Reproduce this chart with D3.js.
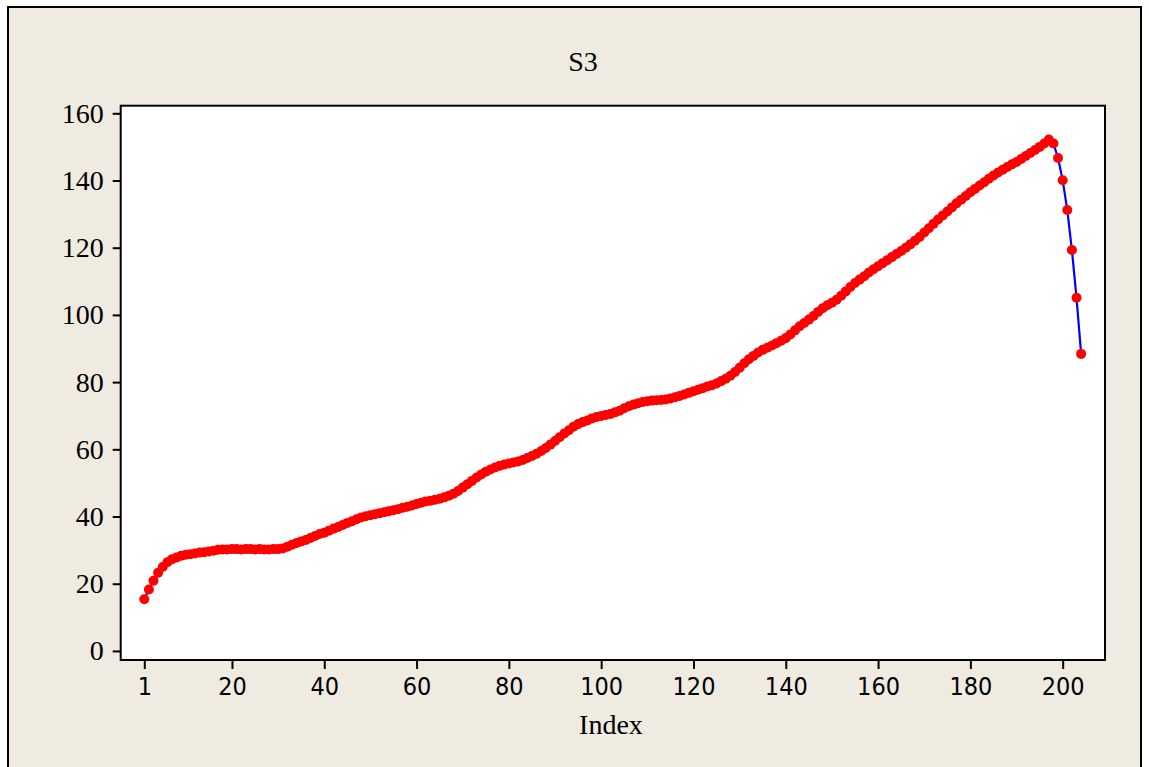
<!DOCTYPE html>
<html>
<head>
<meta charset="utf-8">
<script src="https://cdn.jsdelivr.net/npm/d3@7"></script>
<style>
  html, body { margin: 0; padding: 0; background: #ffffff; }
  svg { display: block; }
</style>
</head>
<body>
<svg id="chart" width="1149" height="767"></svg>
<script>
// Series S3, one value per observation (Index 1..204)
const s3Values = [
  15.4, 18.3, 20.9, 23.3, 25.0, 26.4, 27.3, 27.8, 28.3, 28.6,
  28.8, 29.0, 29.3, 29.4, 29.6, 29.8, 30.1, 30.2, 30.2, 30.3,
  30.3, 30.2, 30.3, 30.3, 30.2, 30.3, 30.2, 30.2, 30.3, 30.3,
  30.5, 31.0, 31.6, 32.1, 32.6, 33.0, 33.6, 34.2, 34.8, 35.2,
  35.8, 36.4, 36.9, 37.5, 38.1, 38.6, 39.2, 39.7, 40.1, 40.4,
  40.7, 41.0, 41.3, 41.6, 41.9, 42.2, 42.6, 42.9, 43.3, 43.7,
  44.1, 44.5, 44.7, 45.0, 45.3, 45.7, 46.2, 46.8, 47.6, 48.6,
  49.6, 50.6, 51.6, 52.5, 53.3, 54.0, 54.6, 55.1, 55.5, 55.8,
  56.1, 56.4, 56.8, 57.4, 58.0, 58.7, 59.5, 60.4, 61.4, 62.5,
  63.6, 64.7, 65.7, 66.7, 67.5, 68.1, 68.6, 69.2, 69.6, 69.9,
  70.2, 70.5, 71.0, 71.5, 72.2, 72.8, 73.3, 73.7, 74.1, 74.3,
  74.5, 74.6, 74.7, 74.8, 75.1, 75.5, 75.9, 76.3, 76.8, 77.3,
  77.7, 78.2, 78.7, 79.1, 79.6, 80.3, 81.0, 81.9, 83.0, 84.3,
  85.6, 86.8, 87.8, 88.8, 89.6, 90.2, 90.9, 91.6, 92.3, 93.1,
  94.2, 95.4, 96.6, 97.6, 98.6, 99.7, 100.9, 102.0, 102.9, 103.6,
  104.5, 105.7, 107.0, 108.3, 109.5, 110.5, 111.5, 112.6, 113.6, 114.5,
  115.4, 116.3, 117.2, 118.1, 119.0, 120.0, 121.0, 122.1, 123.2, 124.5,
  125.8, 127.1, 128.4, 129.6, 130.8, 132.0, 133.2, 134.3, 135.4, 136.5,
  137.5, 138.5, 139.5, 140.5, 141.5, 142.4, 143.2, 144.0, 144.8, 145.5,
  146.4, 147.3, 148.2, 149.1, 150.0, 151.0, 152.2, 151.0, 146.7, 140.1,
  131.2, 119.3, 105.1, 88.4
];

const xTickValues = [1, 20, 40, 60, 80, 100, 120, 140, 160, 180, 200];
const yTickValues = [0, 20, 40, 60, 80, 100, 120, 140, 160];

const titleText = "S3";
const xLabelText = "Index";

const data = s3Values.map((v, i) => ({ index: i + 1, value: v }));

const svg = d3.select("#chart");

// Outer framed panel
svg.append("rect")
  .attr("x", 8).attr("y", 7)
  .attr("width", 1133).attr("height", 775)
  .attr("fill", "#efebe1")
  .attr("stroke", "#000").attr("stroke-width", 2);

const plot = { left: 120.7, top: 105.7, right: 1105, bottom: 660 };

const x = d3.scaleLinear()
  .domain([-4.11, 209.17])
  .range([plot.left, plot.right]);

const y = d3.scaleLinear()
  .domain([-2.7, 162.26])
  .range([plot.bottom, plot.top]);

// Data region
svg.append("rect")
  .attr("x", plot.left).attr("y", plot.top)
  .attr("width", plot.right - plot.left).attr("height", plot.bottom - plot.top)
  .attr("fill", "#ffffff");

// Y axis
const yAxis = svg.append("g")
  .attr("transform", `translate(${plot.left},0)`)
  .call(d3.axisLeft(y).tickValues(yTickValues).tickSize(8).tickPadding(9).tickFormat(d3.format("d")));
yAxis.select(".domain").remove();
yAxis.selectAll(".tick line").attr("stroke", "#000").attr("stroke-width", 2);
yAxis.selectAll(".tick text")
  .attr("fill", "#000")
  .style("font-family", "'Liberation Serif', 'Times New Roman', serif")
  .style("font-size", "28px");

// X axis
const xAxis = svg.append("g")
  .attr("transform", `translate(0,${plot.bottom})`)
  .call(d3.axisBottom(x).tickValues(xTickValues).tickSize(9).tickPadding(8).tickFormat(d3.format("d")));
xAxis.select(".domain").remove();
xAxis.selectAll(".tick line").attr("stroke", "#000").attr("stroke-width", 2);
xAxis.selectAll(".tick text")
  .attr("fill", "#000")
  .style("font-family", "'DejaVu Sans Condensed', 'DejaVu Sans', sans-serif")
  .style("font-size", "25px");

// Plot border
svg.append("rect")
  .attr("x", plot.left).attr("y", plot.top)
  .attr("width", plot.right - plot.left).attr("height", plot.bottom - plot.top)
  .attr("fill", "none")
  .attr("stroke", "#000").attr("stroke-width", 2);

// Connecting line
const line = d3.line()
  .x(d => x(d.index))
  .y(d => y(d.value));

svg.append("path")
  .datum(data)
  .attr("d", line)
  .attr("fill", "none")
  .attr("stroke", "#0000ff")
  .attr("stroke-width", 2.2);

// Symbols
svg.append("g")
  .selectAll("circle")
  .data(data)
  .join("circle")
  .attr("cx", d => x(d.index))
  .attr("cy", d => y(d.value))
  .attr("r", 5)
  .attr("fill", "#ff0000");

// Title and axis label
svg.append("text")
  .attr("x", 583).attr("y", 71)
  .attr("text-anchor", "middle")
  .style("font-family", "'Liberation Serif', 'Times New Roman', serif")
  .style("font-size", "28px")
  .text(titleText);

svg.append("text")
  .attr("x", 611).attr("y", 734)
  .attr("text-anchor", "middle")
  .style("font-family", "'Liberation Serif', 'Times New Roman', serif")
  .style("font-size", "28px")
  .text(xLabelText);
</script>
</body>
</html>
